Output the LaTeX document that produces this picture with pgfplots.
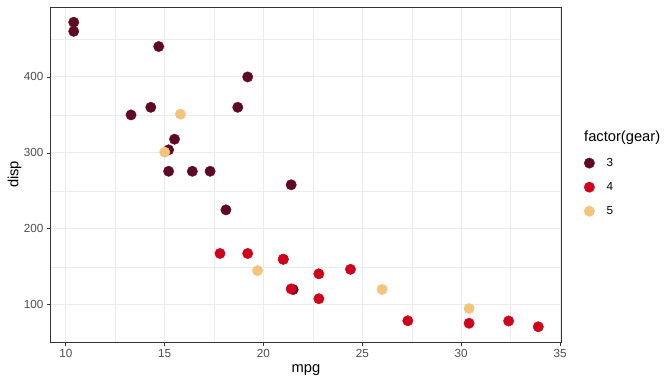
\documentclass[border=0pt]{standalone}
\usepackage{pgfplots}
\pgfplotsset{compat=1.18}
\usepackage{pgfplotstable}
\usepackage{fontspec}
\setmainfont{Liberation Sans}
\definecolor{gthree}{HTML}{5E0A24}
\definecolor{gfour}{HTML}{D0021B}
\definecolor{gfive}{HTML}{F2C47C}
\definecolor{grid92}{HTML}{EBEBEB}
\definecolor{grey20}{HTML}{333333}
\definecolor{grey30}{HTML}{4D4D4D}
\pgfplotstableread{
mpg disp
21.4 258
18.7 360
18.1 225
14.3 360
16.4 275.8
17.3 275.8
15.2 275.8
10.4 472
10.4 460
14.7 440
21.5 120.1
15.5 318
15.2 304
13.3 350
19.2 400
}\gearthree
\pgfplotstableread{
mpg disp
21.0 160
21.0 160
22.8 108
24.4 146.7
22.8 140.8
19.2 167.6
17.8 167.6
32.4 78.7
30.4 75.7
33.9 71.1
27.3 79
21.4 121
}\gearfour
\pgfplotstableread{
mpg disp
26.0 120.3
30.4 95.1
15.8 351
19.7 145
15.0 301
}\gearfive
\begin{document}
\begin{tikzpicture}
\useasboundingbox (-50.5bp,-42bp) rectangle (621.5bp,342bp);
\begin{axis}[
  anchor=south west,
  scale only axis, width=511bp, height=335bp,
  xmin=9.225, xmax=35.075, ymin=51.055, ymax=492.045,
  xtick={10,15,20,25,30,35}, ytick={100,200,300,400},
  minor xtick={12.5,17.5,22.5,27.5,32.5}, minor ytick={150,250,350,450},
  grid=both,
  major grid style={color=grid92, line width=1bp},
  minor grid style={color=grid92, line width=0.5bp},
  axis line style={color=grey20, line width=0.75bp},
  tick align=outside, xtick pos=bottom, ytick pos=left,
  major tick length=3.7bp, minor tick length=0bp,
  every tick/.style={color=grey20, line width=0.75bp},
  ticklabel style={font=\fontsize{11.7bp}{13bp}\selectfont, color=grey30},
  /pgf/number format/assume math mode=true,
  xlabel={mpg}, ylabel={disp},
  label style={font=\fontsize{14.7bp}{16bp}\selectfont},
  xlabel style={at={(axis description cs:0.5,0)}, anchor=center, yshift=-28bp},
  ylabel style={at={(axis description cs:-0.0705,0.5)}, anchor=center},
  legend style={at={(axis description cs:1.044,0.555)}, anchor=north west, draw=none, fill=none,
    font=\fontsize{11.7bp}{13bp}\selectfont, row sep=10.5bp, inner sep=0pt,
    /tikz/every odd column/.append style={column sep=10bp}},
  legend cell align=left,
  legend image code/.code={\draw plot coordinates {(9bp,0bp)};},
  clip=false,
]
\addplot[only marks, mark=*, mark size=5.2bp, color=gthree] table {\gearthree};
\addlegendentry{3}
\addplot[only marks, mark=*, mark size=5.2bp, color=gfour] table {\gearfour};
\addlegendentry{4}
\addplot[only marks, mark=*, mark size=5.2bp, color=gfive] table {\gearfive};
\addlegendentry{5}
\node[anchor=west, font=\fontsize{14.7bp}{16bp}\selectfont, inner sep=0pt] at (axis description cs:1.044,0.609) {factor(gear)};
\end{axis}
\end{tikzpicture}
\end{document}
